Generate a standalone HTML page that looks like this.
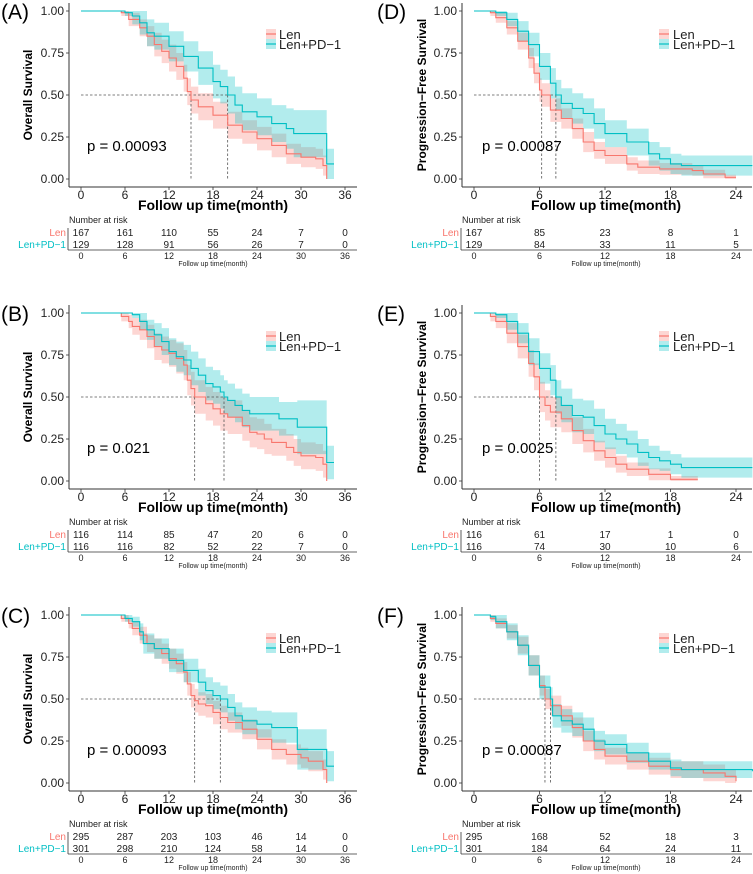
<!DOCTYPE html>
<html><head><meta charset="utf-8"><style>
html,body{margin:0;padding:0;background:#fff;}
svg{display:block;font-family:"Liberation Sans",Arial,sans-serif;}
</style></head><body>
<svg id="fig" width="753" height="874" viewBox="0 0 753 874" xmlns="http://www.w3.org/2000/svg"></svg>
<script>
// ---------- data ----------
const aLenT=[0,5.5,6.5,8,9,10,11,12,13,14,14.5,15,16,18,20,22,24,26,28,30,32,33,33.5];
const aLenS=[1,.99,.95,.90,.85,.80,.76,.72,.67,.60,.52,.47,.43,.38,.32,.28,.24,.20,.15,.13,.12,.08,0];
const aLenH=[0,.02,.04,.05,.06,.07,.07,.08,.08,.08,.08,.08,.08,.08,.08,.07,.07,.07,.06,.06,.06,.06,0];
const aPdT=[0,6,7,8,9,10,12,14,16,18,19,20,21,22,24,26,28,29,33.5];
const aPdS=[1,.99,.97,.93,.87,.85,.79,.73,.66,.58,.55,.50,.44,.40,.37,.33,.30,.27,.09];
const aPdH=[0,.02,.05,.07,.08,.08,.09,.09,.10,.10,.10,.11,.11,.11,.11,.11,.12,.14,.09];

const bLenT=[0,5.5,6.5,7,8,9,10,11,12,13,14,14.5,15,15.5,17,18,19,20,22,23,24,25,26,28,29,30,32,33,33.5];
const bLenS=[1,.98,.95,.92,.90,.86,.80,.78,.76,.73,.69,.60,.55,.50,.46,.43,.40,.38,.33,.29,.28,.25,.23,.20,.17,.15,.14,.10,0];
const bLenH=[0,.03,.04,.05,.06,.07,.08,.08,.08,.09,.09,.09,.10,.10,.10,.10,.10,.10,.09,.09,.09,.09,.08,.08,.08,.08,.08,.08,0];
const bPdT=[0,7,8,9,10,11,12,13,14,15,16,17,18,19,19.5,20,21,22,23,27,29.5,33.5];
const bPdS=[1,.99,.95,.90,.87,.83,.77,.74,.72,.67,.63,.58,.56,.53,.50,.48,.45,.42,.40,.37,.32,.11];
const bPdH=[0,.02,.05,.06,.07,.08,.08,.09,.09,.10,.10,.10,.10,.10,.10,.10,.10,.10,.10,.10,.16,.1];

const cLenT=[0,5.5,6.5,7,8,9,10,11,12,13,14,14.5,15,15.5,16,17,18,19,20,22,24,26,28,30,31,33,33.5];
const cLenS=[1,.98,.95,.92,.88,.83,.80,.77,.74,.71,.66,.59,.52,.49,.47,.46,.42,.39,.36,.32,.26,.20,.17,.15,.13,.08,0];
const cLenH=[0,.02,.03,.04,.05,.05,.06,.06,.06,.06,.06,.07,.07,.07,.07,.07,.07,.07,.06,.06,.06,.06,.06,.06,.06,.06,0];
const cPdT=[0,6,7,8,8.5,10,12,14,16,17,18,19,20,21,22,24,26,29.5,33.5];
const cPdS=[1,.98,.96,.90,.83,.80,.73,.67,.60,.55,.52,.50,.45,.40,.37,.35,.33,.20,.10];
const cPdH=[0,.02,.03,.05,.06,.06,.07,.07,.08,.08,.08,.08,.08,.08,.08,.08,.09,.12,.09];

const dLenT=[0,1.5,2,3,4,5,5.5,6,6.2,7,8,9,10,11,12,14,15,17,20,21,23,24];
const dLenS=[1,.99,.96,.90,.82,.72,.63,.53,.50,.41,.36,.30,.22,.17,.14,.09,.07,.06,.05,.03,.01,.01];
const dLenH=[0,.02,.03,.04,.05,.06,.06,.07,.07,.07,.06,.06,.06,.05,.05,.04,.04,.035,.03,.025,.015,.015];
const dPdT=[0,2,3,4,5,6,7,7.5,8,9,10,11,12,14,16,17,18,19,25.5];
const dPdS=[1,.99,.95,.88,.80,.67,.57,.50,.45,.42,.39,.33,.27,.22,.15,.12,.09,.08,.08];
const dPdH=[0,.02,.04,.06,.07,.08,.09,.09,.09,.09,.09,.09,.08,.08,.07,.07,.06,.06,.06];

const eLenT=[0,1.5,2,3,4,5,5.5,6,6.5,7,8,9,10,11,12,13,14,16,18,20.5];
const eLenS=[1,.98,.95,.88,.80,.70,.62,.50,.45,.41,.37,.30,.24,.18,.14,.10,.07,.04,.01,.01];
const eLenH=[0,.03,.04,.06,.07,.08,.08,.09,.09,.09,.08,.08,.07,.06,.06,.05,.04,.035,.02,.02];
const ePdT=[0,2,3,4,5,6,7,7.5,8,9,10,11,12,13,14,15,16,17,18,19,25.5];
const ePdS=[1,.99,.95,.88,.77,.67,.60,.50,.45,.39,.38,.33,.28,.25,.22,.17,.14,.12,.10,.08,.08];
const ePdH=[0,.02,.05,.06,.08,.09,.09,.10,.10,.10,.10,.10,.09,.09,.08,.08,.07,.06,.06,.06,.06];

const fLenT=[0,1.5,2,3,4,5,6,6.5,7,8,9,10,11,12,14,16,18,21,23,24];
const fLenS=[1,.98,.95,.90,.82,.70,.58,.50,.46,.40,.33,.25,.20,.16,.13,.10,.08,.06,.04,.01];
const fLenH=[0,.02,.03,.04,.05,.06,.06,.06,.06,.06,.06,.06,.06,.05,.05,.05,.05,.05,.04,.02];
const fPdT=[0,1.5,2,3,4,5,6,7,7.2,8,9,10,11,12,14,16,18,19,25.5];
const fPdS=[1,.99,.96,.90,.82,.70,.57,.50,.40,.37,.35,.32,.25,.23,.18,.13,.09,.08,.07];
const fPdH=[0,.02,.04,.05,.06,.06,.07,.07,.07,.07,.07,.07,.06,.06,.06,.05,.05,.05,.05];

const aEnd=[33.5,34.5], bEnd=[33.5,34.5], cEnd=[33.5,34.5];
const dEnd=[24,25.5], eEnd=[20.5,25.5], fEnd=[24,25.5];

const osTicks=[0,6,12,18,24,30,36];
const pfsTicks=[0,6,12,18,24];
const yTicks=[0,0.25,0.5,0.75,1];
const yTickLabels=["0.00","0.25","0.50","0.75","1.00"];

const aRiskLen=[167,161,110,55,24,7,0], aRiskPd=[129,128,91,56,26,7,0];
const bRiskLen=[116,114,85,47,20,6,0], bRiskPd=[116,116,82,52,22,7,0];
const cRiskLen=[295,287,203,103,46,14,0], cRiskPd=[301,298,210,124,58,14,0];
const dRiskLen=[167,85,23,8,1], dRiskPd=[129,84,33,11,5];
const eRiskLen=[116,61,17,1,0], eRiskPd=[116,74,30,10,6];
const fRiskLen=[295,168,52,18,3], fRiskPd=[301,184,64,24,11];

const pValues=["p = 0.00093","p = 0.021","p = 0.00093","p = 0.00087","p = 0.0025","p = 0.00087"];
const panelLabels=["(A)","(B)","(C)","(D)","(E)","(F)"];

// ---------- drawing ----------
const NS="http://www.w3.org/2000/svg";
const svg=document.getElementById('fig');
const RED="#F8766D", CYAN="#00BFC4";
function el(tag,attrs,parent,text){
  const e=document.createElementNS(NS,tag);
  for(const k in attrs) e.setAttribute(k,attrs[k]);
  if(text!==undefined) e.textContent=text;
  (parent||svg).appendChild(e);
  return e;
}

const panels=[
 {col:0,row:0,L:[aLenT,aLenS,aLenH],P:[aPdT,aPdS,aPdH],end:aEnd,ticks:osTicks,xmax:36,rl:aRiskLen,rp:aRiskPd,yt:"Overall Survival",name:"a"},
 {col:0,row:1,L:[bLenT,bLenS,bLenH],P:[bPdT,bPdS,bPdH],end:bEnd,ticks:osTicks,xmax:36,rl:bRiskLen,rp:bRiskPd,yt:"Overall Survival",name:"b"},
 {col:0,row:2,L:[cLenT,cLenS,cLenH],P:[cPdT,cPdS,cPdH],end:cEnd,ticks:osTicks,xmax:36,rl:cRiskLen,rp:cRiskPd,yt:"Overall Survival",name:"c"},
 {col:1,row:0,L:[dLenT,dLenS,dLenH],P:[dPdT,dPdS,dPdH],end:dEnd,ticks:pfsTicks,xmax:24,rl:dRiskLen,rp:dRiskPd,yt:"Progression\u2212Free Survival",name:"d"},
 {col:1,row:1,L:[eLenT,eLenS,eLenH],P:[ePdT,ePdS,ePdH],end:eEnd,ticks:pfsTicks,xmax:24,rl:eRiskLen,rp:eRiskPd,yt:"Progression\u2212Free Survival",name:"e"},
 {col:1,row:2,L:[fLenT,fLenS,fLenH],P:[fPdT,fPdS,fPdH],end:fEnd,ticks:pfsTicks,xmax:24,rl:fRiskLen,rp:fRiskPd,yt:"Progression\u2212Free Survival",name:"f"}
];
const rowOff=[0,302,604];
const colGeo=[
 {ax:69,x0:81,x1:345,right:357,cx:0,yTitleX:32,legKey:266,legText:279,pX:87,title:213},
 {ax:462,x0:474,x1:736,right:752,cx:376,yTitleX:426,legKey:659,legText:673,pX:482,title:606}
];

panels.forEach((p,pi)=>{
  const g=colGeo[p.col], off=rowOff[p.row];
  const grp=el('g',{});
  
  
  const X=t=>g.x0+(g.x1-g.x0)*t/p.xmax;
  const Y=s=>179+off-(168)*s;
  const axisY=187+off;

  const pl=el('text',{x:g.cx+1,y:19+off,'font-size':21,fill:'#000'},grp,panelLabels[pi]);
  
  

  function band(ser,end,color,nm){
    const [T,S,H]=ser;
    let up=[],lo=[];
    for(let i=0;i<T.length;i++){
      const tn=i<T.length-1?T[i+1]:end;
      const hi=Math.min(1,S[i]+H[i]), lw=Math.max(0,S[i]-H[i]);
      up.push([X(T[i]),Y(hi)],[X(tn),Y(hi)]);
      lo.push([X(T[i]),Y(lw)],[X(tn),Y(lw)]);
    }
    const pts=up.concat(lo.reverse()).map(q=>q[0].toFixed(1)+','+q[1].toFixed(1)).join(' ');
    const b=el('polygon',{points:pts,fill:color,'fill-opacity':0.3,stroke:'none'},grp);
    
    
  }
  band(p.L,p.end[0],RED,'ci-band-len');
  band(p.P,p.end[1],CYAN,'ci-band-len-pd1');

  function median(ser){const [T,S]=ser;for(let i=0;i<T.length;i++) if(S[i]<=0.5) return T[i];return null;}
  const m1=median(p.L), m2=median(p.P);
  const ms=[m1,m2].filter(v=>v!==null);
  if(ms.length){
    const mx=Math.max(...ms);
    const hl=el('line',{x1:X(0),y1:Y(.5),x2:X(mx),y2:Y(.5),stroke:'#555','stroke-width':0.8,'stroke-dasharray':'2.5,2'},grp);
    
    
    ms.forEach(m=>{
      const vl=el('line',{x1:X(m),y1:Y(.5),x2:X(m),y2:Y(0),stroke:'#555','stroke-width':0.8,'stroke-dasharray':'2.5,2'},grp);
      
      
    });
  }

  function curve(ser,end,color,nm){
    const [T,S]=ser;
    let d='M'+X(T[0]).toFixed(1)+','+Y(S[0]).toFixed(1);
    for(let i=1;i<T.length;i++) d+=' H'+X(T[i]).toFixed(1)+' V'+Y(S[i]).toFixed(1);
    d+=' H'+X(end).toFixed(1);
    const c=el('path',{d:d,fill:'none',stroke:color,'stroke-width':1.1},grp);
    
    
  }
  curve(p.L,p.end[0],RED,'curve-len');
  curve(p.P,p.end[1],CYAN,'curve-len-pd1');

  const ya=el('line',{x1:g.ax,y1:3+off,x2:g.ax,y2:axisY,stroke:'#333','stroke-width':1},grp);
  
  
  const xa=el('line',{x1:g.ax,y1:axisY,x2:g.right,y2:axisY,stroke:'#333','stroke-width':1},grp);
  
  
  yTicks.forEach((v,i)=>{
    el('line',{x1:g.ax-3,y1:Y(v),x2:g.ax,y2:Y(v),stroke:'#333','stroke-width':0.8},grp);
    const t=el('text',{x:g.ax-5,y:Y(v)+4,'font-size':12,'text-anchor':'end',fill:'#222'},grp,yTickLabels[i]);
    
    
  });
  p.ticks.forEach(v=>{
    el('line',{x1:X(v),y1:axisY,x2:X(v),y2:axisY+3,stroke:'#333','stroke-width':0.8},grp);
    const t=el('text',{x:X(v),y:axisY+12,'font-size':12,'text-anchor':'middle',fill:'#222'},grp,String(v));
    
    
  });
  const yt=el('text',{x:g.yTitleX,y:Y(.5),'font-size':12,'font-weight':'bold','text-anchor':'middle',transform:'rotate(-90 '+g.yTitleX+' '+Y(.5)+')',fill:'#000'},grp,p.yt);
  
  
  const xt=el('text',{x:g.title,y:210+off,'font-size':14,'font-weight':'bold','text-anchor':'middle',fill:'#000'},grp,'Follow up time(month)');
  
  

  const pv=el('text',{x:g.pX,y:151+off,'font-size':15,fill:'#000'},grp,pValues[pi]);
  
  

  [[RED,'Len',0],[CYAN,'Len+PD\u22121',10]].forEach(([c,l,dy])=>{
    const k=el('rect',{x:g.legKey,y:29+off+dy,width:10,height:10,fill:c,'fill-opacity':0.3},grp);
    
    
    el('line',{x1:g.legKey,y1:34+off+dy,x2:g.legKey+10,y2:34+off+dy,stroke:c,'stroke-width':1.2},grp);
    const lt=el('text',{x:g.legText,y:39+off+dy,'font-size':13,fill:'#222'},grp,l);
    
    
  });

  const nr=el('text',{x:g.ax,y:223+off,'font-size':9,fill:'#222'},grp,'Number at risk');
  
  
  el('line',{x1:g.ax-1,y1:228+off,x2:g.ax-1,y2:250+off,stroke:'#333','stroke-width':0.8},grp);
  el('line',{x1:g.ax-1,y1:250+off,x2:g.right,y2:250+off,stroke:'#333','stroke-width':0.8},grp);
  [[RED,'Len',p.rl,236],[CYAN,'Len+PD\u22121',p.rp,248]].forEach(([c,l,arr,yy])=>{
    const rl=el('text',{x:g.ax-3,y:yy+off,'font-size':10,'text-anchor':'end',fill:c},grp,l);
    
    
    arr.forEach((n,i)=>{
      const t=el('text',{x:X(p.ticks[i]),y:yy+off,'font-size':10,'text-anchor':'middle',fill:'#222'},grp,String(n));
      
      
    });
  });
  p.ticks.forEach(v=>{
    const t=el('text',{x:X(v),y:259+off,'font-size':9,'text-anchor':'middle',fill:'#222'},grp,String(v));
    
    
  });
  const st=el('text',{x:g.title,y:266+off,'font-size':7,'text-anchor':'middle',fill:'#222'},grp,'Follow up time(month)');
  
  
});
</script>
</body></html>
